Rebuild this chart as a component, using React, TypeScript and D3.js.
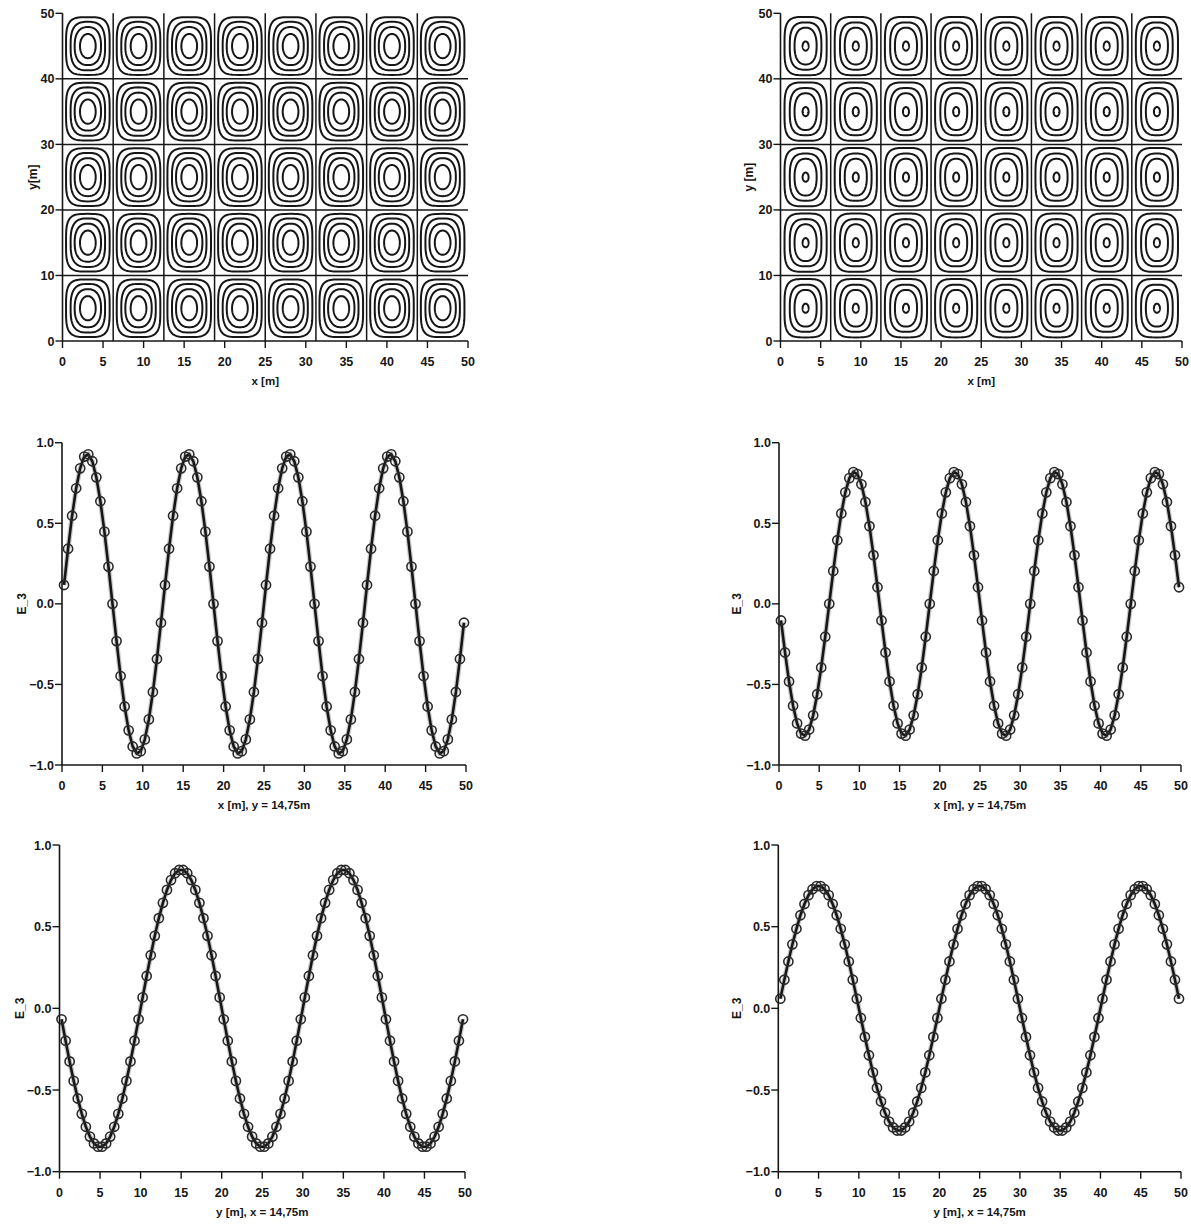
import React from 'react';
import * as d3 from 'd3';

// Sample positions along the cut line (metres)
const SAMPLE_POS = [
  0.25, 0.75, 1.25, 1.75, 2.25, 2.75, 3.25, 3.75, 4.25, 4.75,
  5.25, 5.75, 6.25, 6.75, 7.25, 7.75, 8.25, 8.75, 9.25, 9.75,
  10.25, 10.75, 11.25, 11.75, 12.25, 12.75, 13.25, 13.75, 14.25, 14.75,
  15.25, 15.75, 16.25, 16.75, 17.25, 17.75, 18.25, 18.75, 19.25, 19.75,
  20.25, 20.75, 21.25, 21.75, 22.25, 22.75, 23.25, 23.75, 24.25, 24.75,
  25.25, 25.75, 26.25, 26.75, 27.25, 27.75, 28.25, 28.75, 29.25, 29.75,
  30.25, 30.75, 31.25, 31.75, 32.25, 32.75, 33.25, 33.75, 34.25, 34.75,
  35.25, 35.75, 36.25, 36.75, 37.25, 37.75, 38.25, 38.75, 39.25, 39.75,
  40.25, 40.75, 41.25, 41.75, 42.25, 42.75, 43.25, 43.75, 44.25, 44.75,
  45.25, 45.75, 46.25, 46.75, 47.25, 47.75, 48.25, 48.75, 49.25, 49.75,
];

// E_3 along x at y = 14.75 m (left solution)
const E3_X_LEFT = [
  0.117, 0.342, 0.547, 0.717, 0.841, 0.914, 0.928, 0.885, 0.785, 0.637, 0.448, 0.231, 0.000,
  -0.231, -0.448, -0.637, -0.785, -0.885, -0.928, -0.914, -0.841, -0.717, -0.547, -0.342, -0.117,
  0.117, 0.342, 0.547, 0.717, 0.841, 0.914, 0.928, 0.885, 0.785, 0.637, 0.448, 0.231, 0.000,
  -0.231, -0.448, -0.637, -0.785, -0.885, -0.928, -0.914, -0.841, -0.717, -0.547, -0.342, -0.117,
  0.117, 0.342, 0.547, 0.717, 0.841, 0.914, 0.928, 0.885, 0.785, 0.637, 0.448, 0.231, 0.000,
  -0.231, -0.448, -0.637, -0.785, -0.885, -0.928, -0.914, -0.841, -0.717, -0.547, -0.342, -0.117,
  0.117, 0.342, 0.547, 0.717, 0.841, 0.914, 0.928, 0.885, 0.785, 0.637, 0.448, 0.231, 0.000,
  -0.231, -0.448, -0.637, -0.785, -0.885, -0.928, -0.914, -0.841, -0.717, -0.547, -0.342, -0.117,
];

// E_3 along x at y = 14.75 m (right solution)
const E3_X_RIGHT = [
  -0.103, -0.302, -0.482, -0.632, -0.742, -0.805, -0.818, -0.780, -0.692, -0.561, -0.395, -0.204, 0.000,
  0.204, 0.395, 0.561, 0.692, 0.780, 0.818, 0.805, 0.742, 0.632, 0.482, 0.302, 0.103,
  -0.103, -0.302, -0.482, -0.632, -0.742, -0.805, -0.818, -0.780, -0.692, -0.561, -0.395, -0.204, 0.000,
  0.204, 0.395, 0.561, 0.692, 0.780, 0.818, 0.805, 0.742, 0.632, 0.482, 0.302, 0.103,
  -0.103, -0.302, -0.482, -0.632, -0.742, -0.805, -0.818, -0.780, -0.692, -0.561, -0.395, -0.204, 0.000,
  0.204, 0.395, 0.561, 0.692, 0.780, 0.818, 0.805, 0.742, 0.632, 0.482, 0.302, 0.103,
  -0.103, -0.302, -0.482, -0.632, -0.742, -0.805, -0.818, -0.780, -0.692, -0.561, -0.395, -0.204, 0.000,
  0.204, 0.395, 0.561, 0.692, 0.780, 0.818, 0.805, 0.742, 0.632, 0.482, 0.302, 0.103,
];

// E_3 along y at x = 14.75 m (left solution)
const E3_Y_LEFT = [
  -0.067, -0.198, -0.325, -0.444, -0.552, -0.646, -0.725, -0.785, -0.827, -0.847,
  -0.847, -0.827, -0.785, -0.725, -0.646, -0.552, -0.444, -0.325, -0.198, -0.067,
  0.067, 0.198, 0.325, 0.444, 0.552, 0.646, 0.725, 0.785, 0.827, 0.847,
  0.847, 0.827, 0.785, 0.725, 0.646, 0.552, 0.444, 0.325, 0.198, 0.067,
  -0.067, -0.198, -0.325, -0.444, -0.552, -0.646, -0.725, -0.785, -0.827, -0.847,
  -0.847, -0.827, -0.785, -0.725, -0.646, -0.552, -0.444, -0.325, -0.198, -0.067,
  0.067, 0.198, 0.325, 0.444, 0.552, 0.646, 0.725, 0.785, 0.827, 0.847,
  0.847, 0.827, 0.785, 0.725, 0.646, 0.552, 0.444, 0.325, 0.198, 0.067,
  -0.067, -0.198, -0.325, -0.444, -0.552, -0.646, -0.725, -0.785, -0.827, -0.847,
  -0.847, -0.827, -0.785, -0.725, -0.646, -0.552, -0.444, -0.325, -0.198, -0.067,
];

// E_3 along y at x = 14.75 m (right solution)
const E3_Y_RIGHT = [
  0.059, 0.175, 0.287, 0.392, 0.487, 0.570, 0.639, 0.693, 0.729, 0.748,
  0.748, 0.729, 0.693, 0.639, 0.570, 0.487, 0.392, 0.287, 0.175, 0.059,
  -0.059, -0.175, -0.287, -0.392, -0.487, -0.570, -0.639, -0.693, -0.729, -0.748,
  -0.748, -0.729, -0.693, -0.639, -0.570, -0.487, -0.392, -0.287, -0.175, -0.059,
  0.059, 0.175, 0.287, 0.392, 0.487, 0.570, 0.639, 0.693, 0.729, 0.748,
  0.748, 0.729, 0.693, 0.639, 0.570, 0.487, 0.392, 0.287, 0.175, 0.059,
  -0.059, -0.175, -0.287, -0.392, -0.487, -0.570, -0.639, -0.693, -0.729, -0.748,
  -0.748, -0.729, -0.693, -0.639, -0.570, -0.487, -0.392, -0.287, -0.175, -0.059,
  0.059, 0.175, 0.287, 0.392, 0.487, 0.570, 0.639, 0.693, 0.729, 0.748,
  0.748, 0.729, 0.693, 0.639, 0.570, 0.487, 0.392, 0.287, 0.175, 0.059,
];

// Contour cells of the field map
const CELL_CENTER_X = [3.125, 9.375, 15.625, 21.875, 28.125, 34.375, 40.625, 46.875];
const CELL_CENTER_Y = [5, 15, 25, 35, 45];
const CELL_DIVIDER_X = [6.25, 12.5, 18.75, 25, 31.25, 37.5, 43.75];
const CELL_DIVIDER_Y = [10, 20, 30, 40];

// Contour rings inside one cell: extent as a fraction of the half cell, and squareness
const RING_W_LEFT = [0.86, 0.68, 0.52, 0.31];
const RING_H_LEFT = [0.88, 0.74, 0.58, 0.37];
const RING_P_LEFT = [3.8, 2.9, 2.4, 2.05];
const RING_W_RIGHT = [0.84, 0.63, 0.44, 0.12];
const RING_H_RIGHT = [0.89, 0.72, 0.56, 0.14];
const RING_P_RIGHT = [3.8, 2.9, 2.4, 2.0];

const POS_TICKS = [0, 5, 10, 15, 20, 25, 30, 35, 40, 45, 50];
const MAP_Y_TICKS = [0, 10, 20, 30, 40, 50];
const E_TICKS = [-1, -0.5, 0, 0.5, 1];

const FONT = "'Liberation Sans', Arial, Helvetica, sans-serif";
const INK = '#161616';

type Box = { x0: number; x1: number; yTop: number; yBot: number };

function Axes({ box, x, y, yTicks, yFmt, xTitle, yTitle, yTitleX }: any) {
  return (
    <g fontFamily={FONT} fontWeight="bold" fill={INK}>
      <line x1={box.x0} x2={box.x0} y1={box.yTop} y2={box.yBot} stroke={INK} strokeWidth={1.6} />
      <line x1={box.x0} x2={box.x1} y1={box.yBot} y2={box.yBot} stroke={INK} strokeWidth={1.6} />
      {POS_TICKS.map((t) => (
        <g key={'x' + t}>
          <line x1={x(t)} x2={x(t)} y1={box.yBot} y2={box.yBot + 7} stroke={INK} strokeWidth={1.4} />
          <text x={x(t)} y={box.yBot + 25} textAnchor="middle" fontSize={12.5}>{t}</text>
        </g>
      ))}
      {yTicks.map((t: number) => (
        <g key={'y' + t}>
          <line x1={box.x0 - 7} x2={box.x0} y1={y(t)} y2={y(t)} stroke={INK} strokeWidth={1.4} />
          <text x={box.x0 - 8} y={y(t) + 4.5} textAnchor="end" fontSize={12.5}>{yFmt(t)}</text>
        </g>
      ))}
      <text x={(box.x0 + box.x1) / 2} y={box.yBot + 44} textAnchor="middle" fontSize={11.5}>{xTitle}</text>
      <text
        transform={`translate(${yTitleX},${(box.yTop + box.yBot) / 2}) rotate(-90)`}
        textAnchor="middle"
        fontSize={12}
        dy={4}
      >
        {yTitle}
      </text>
    </g>
  );
}

function ringPath(x: any, y: any, cx: number, cy: number, a: number, b: number, p: number) {
  const pts: [number, number][] = d3.range(0, 96).map((i) => {
    const t = (i / 96) * Math.PI * 2;
    const c = Math.cos(t);
    const s = Math.sin(t);
    const px = cx + a * Math.sign(c) * Math.pow(Math.abs(c), 2 / p);
    const py = cy + b * Math.sign(s) * Math.pow(Math.abs(s), 2 / p);
    return [x(px), y(py)];
  });
  return d3.line().curve(d3.curveLinearClosed)(pts) as string;
}

function ContourPanel({ box, ringW, ringH, ringP, yTitle, yTitleX }: any) {
  const x = d3.scaleLinear().domain([0, 50]).range([box.x0, box.x1]);
  const y = d3.scaleLinear().domain([0, 50]).range([box.yBot, box.yTop]);
  const halfW = CELL_DIVIDER_X[0] / 2;
  const halfH = CELL_DIVIDER_Y[0] / 2;
  return (
    <g>
      {CELL_DIVIDER_X.map((d) => (
        <line key={'dx' + d} x1={x(d)} x2={x(d)} y1={y(0)} y2={y(50)} stroke={INK} strokeWidth={1.5} />
      ))}
      {CELL_DIVIDER_Y.map((d) => (
        <line key={'dy' + d} x1={x(0)} x2={x(50)} y1={y(d)} y2={y(d)} stroke={INK} strokeWidth={1.5} />
      ))}
      {CELL_CENTER_X.map((cx) =>
        CELL_CENTER_Y.map((cy) =>
          ringW.map((w: number, r: number) => (
            <path
              key={`${cx}-${cy}-${r}`}
              d={ringPath(x, y, cx, cy, w * halfW, ringH[r] * halfH, ringP[r])}
              fill="none"
              stroke={INK}
              strokeWidth={2}
            />
          ))
        )
      )}
      <Axes
        box={box}
        x={x}
        y={y}
        yTicks={MAP_Y_TICKS}
        yFmt={(t: number) => String(t)}
        xTitle="x [m]"
        yTitle={yTitle}
        yTitleX={yTitleX}
      />
    </g>
  );
}

function ProfilePanel({ box, values, xTitle, yTitleX }: any) {
  const x = d3.scaleLinear().domain([0, 50]).range([box.x0, box.x1]);
  const y = d3.scaleLinear().domain([-1, 1]).range([box.yBot, box.yTop]);
  const pts: [number, number][] = SAMPLE_POS.map((p, i) => [x(p), y(values[i])]);
  const path = d3.line()(pts) as string;
  return (
    <g>
      <path d={path} fill="none" stroke="#9a9a9a" strokeWidth={5} strokeOpacity={0.55} />
      <path d={path} fill="none" stroke={INK} strokeWidth={2.6} />
      {pts.map(([px, py], i) => (
        <circle key={i} cx={px} cy={py} r={4.6} fill="none" stroke="#2a2a2a" strokeWidth={1.6} />
      ))}
      <Axes
        box={box}
        x={x}
        y={y}
        yTicks={E_TICKS}
        yFmt={d3.format('.1f')}
        xTitle={xTitle}
        yTitle="E_3"
        yTitleX={yTitleX}
      />
    </g>
  );
}

export default function App() {
  const topLeft: Box = { x0: 62.5, x1: 468, yTop: 13.3, yBot: 341 };
  const topRight: Box = { x0: 780.5, x1: 1182, yTop: 13.3, yBot: 341 };
  const midLeft: Box = { x0: 62, x1: 466, yTop: 442.7, yBot: 765 };
  const midRight: Box = { x0: 779, x1: 1181, yTop: 442.7, yBot: 765 };
  const botLeft: Box = { x0: 59.5, x1: 465, yTop: 845, yBot: 1171.7 };
  const botRight: Box = { x0: 778.3, x1: 1181, yTop: 845, yBot: 1171.7 };
  return (
    <svg
      width={1191}
      height={1224}
      viewBox="0 0 1191 1224"
      style={{ position: 'absolute', left: 0, top: 0, background: '#fff' }}
    >
      <rect width={1191} height={1224} fill="#fff" />
      <ContourPanel box={topLeft} ringW={RING_W_LEFT} ringH={RING_H_LEFT} ringP={RING_P_LEFT} yTitle="y[m]" yTitleX={33} />
      <ContourPanel box={topRight} ringW={RING_W_RIGHT} ringH={RING_H_RIGHT} ringP={RING_P_RIGHT} yTitle="y [m]" yTitleX={749} />
      <ProfilePanel box={midLeft} values={E3_X_LEFT} xTitle="x [m], y = 14,75m" yTitleX={22} />
      <ProfilePanel box={midRight} values={E3_X_RIGHT} xTitle="x [m], y = 14,75m" yTitleX={737} />
      <ProfilePanel box={botLeft} values={E3_Y_LEFT} xTitle="y [m], x = 14,75m" yTitleX={20} />
      <ProfilePanel box={botRight} values={E3_Y_RIGHT} xTitle="y [m], x = 14,75m" yTitleX={737} />
    </svg>
  );
}
